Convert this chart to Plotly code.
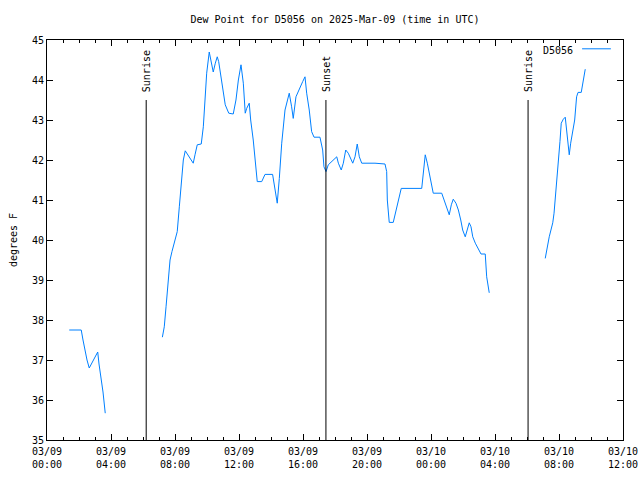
import pandas as pd
import plotly.graph_objects as go

# hours after 2025-03-09 00:00 UTC, dew point (F); segments separated by gaps
seg1_h = [1.39, 2.14, 2.25, 2.375, 2.5, 2.64, 3.17, 3.25, 3.375, 3.5, 3.64]
seg1_v = [37.75, 37.75, 37.5, 37.2, 37.0, 36.8, 37.2, 36.9, 36.6, 36.2, 35.67]

seg2_h = [7.21, 7.33, 7.44, 7.56, 7.69, 7.81, 8.0, 8.14, 8.27, 8.42, 8.52, 8.64, 8.89, 9.14,
          9.25, 9.39, 9.64, 9.77, 9.875, 9.98, 10.14, 10.27, 10.39, 10.52, 10.64, 10.73,
          10.86, 10.98, 11.14, 11.36, 11.64, 11.81, 11.96, 12.125, 12.27, 12.39, 12.48,
          12.64, 12.73, 12.89, 13.06, 13.14, 13.42, 13.625, 14.1, 14.25, 14.39, 14.52,
          14.67, 14.875, 15.14, 15.29, 15.39, 15.56, 15.77, 15.98, 16.125, 16.23, 16.39,
          16.54, 16.69, 17.06, 17.23, 17.31, 17.44, 17.58, 18.11, 18.21, 18.39, 18.52,
          18.67, 18.83, 19.11, 19.25, 19.39, 19.52, 19.67, 20.5, 21.125, 21.23, 21.27,
          21.375, 21.39, 21.64, 21.75, 21.86, 22.02, 22.14, 23.42, 23.48, 23.56, 23.64,
          23.77, 23.89, 24.02, 24.14, 24.67, 24.81, 24.98, 25.14, 25.27, 25.39, 25.56,
          25.71, 25.86, 25.98, 26.14, 26.27, 26.39, 26.5, 26.61, 26.77, 26.94, 27.125,
          27.39, 27.48, 27.64]
seg2_v = [37.57, 37.83, 38.33, 38.92, 39.5, 39.71, 40.04, 40.21, 40.83, 41.67, 42.0, 42.23,
          42.08, 41.92, 42.13, 42.38, 42.4, 42.83, 43.5, 44.17, 44.7, 44.42, 44.2, 44.42,
          44.58, 44.46, 44.13, 43.75, 43.38, 43.17, 43.15, 43.5, 44.0, 44.38, 43.92, 43.17,
          43.29, 43.42, 43.0, 42.5, 41.83, 41.46, 41.46, 41.64, 41.64, 41.25, 40.92, 41.54,
          42.42, 43.25, 43.67, 43.33, 43.04, 43.58, 43.79, 43.96, 44.08, 43.67, 43.25, 42.71,
          42.57, 42.57, 42.25, 41.83, 41.71, 41.88, 42.08, 41.92, 41.75, 41.92, 42.25, 42.17,
          41.92, 42.08, 42.4, 42.08, 41.92, 41.92, 41.9, 41.71, 41.0, 40.63, 40.44, 40.44,
          40.63, 40.83, 41.13, 41.29, 41.29, 41.5, 41.92, 42.13, 41.92, 41.67, 41.42, 41.17,
          41.17, 41.0, 40.79, 40.63, 40.88, 41.02, 40.92, 40.75, 40.5, 40.25, 40.08, 40.25,
          40.43, 40.33, 40.08, 39.92, 39.79, 39.65, 39.65, 39.08, 38.68]

seg3_h = [31.14, 31.27, 31.39, 31.61, 31.69, 31.81, 31.89, 31.98, 32.06, 32.14, 32.27, 32.39,
          32.48, 32.56, 32.64, 32.73, 32.86, 32.98, 33.1, 33.19, 33.39, 33.52, 33.64]
seg3_v = [39.54, 39.83, 40.08, 40.43, 40.67, 41.25, 41.58, 42.13, 42.46, 42.92, 43.02, 43.07,
          42.75, 42.46, 42.13, 42.42, 42.75, 43.0, 43.58, 43.69, 43.69, 44.0, 44.27]

sun_labels = ["Sunrise", "Sunset", "Sunrise"]
sun_times = ["2025-03-09 06:12", "2025-03-09 17:26", "2025-03-10 06:04"]

tick_times = ["2025-03-09 00:00", "2025-03-09 04:00", "2025-03-09 08:00", "2025-03-09 12:00",
              "2025-03-09 16:00", "2025-03-09 20:00", "2025-03-10 00:00", "2025-03-10 04:00",
              "2025-03-10 08:00", "2025-03-10 12:00"]
tick_text = ["03/09<br>00:00", "03/09<br>04:00", "03/09<br>08:00", "03/09<br>12:00",
             "03/09<br>16:00", "03/09<br>20:00", "03/10<br>00:00", "03/10<br>04:00",
             "03/10<br>08:00", "03/10<br>12:00"]

base = pd.Timestamp("2025-03-09 00:00")
xs, ys = [], []
for hs, vs in [(seg1_h, seg1_v), (seg2_h, seg2_v), (seg3_h, seg3_v)]:
    xs += [base + pd.Timedelta(hours=h) for h in hs] + [None]
    ys += vs + [None]

FONT = "DejaVu Sans Mono"
COLOR = "#0080ff"

fig = go.Figure()
fig.add_trace(go.Scatter(x=xs, y=ys, mode="lines", name="D5056",
                         line=dict(color=COLOR, width=1), connectgaps=False,
                         showlegend=False))

for lab, t in zip(sun_labels, sun_times):
    fig.add_shape(type="line", x0=t, x1=t, y0=35, y1=43.5, xref="x", yref="y",
                  line=dict(color="black", width=1))
    fig.add_annotation(x=t, y=43.5, xref="x", yref="y", text=lab, textangle=-90,
                       showarrow=False, yanchor="bottom", xanchor="center", yshift=6,
                       font=dict(family=FONT, size=10, color="black"))

# legend (gnuplot style: label then line sample)
fig.add_annotation(x=0.917, y=0.975, xref="paper", yref="paper", text="D5056",
                   showarrow=False, xanchor="right", yanchor="middle",
                   font=dict(family=FONT, size=10, color="black"))
fig.add_shape(type="line", x0=0.929, x1=0.979, y0=0.978, y1=0.978, xref="paper",
              yref="paper", line=dict(color=COLOR, width=1))

fig.update_layout(
    width=640, height=480,
    margin=dict(l=47, r=17, t=40, b=40),
    paper_bgcolor="white", plot_bgcolor="white",
    font=dict(family=FONT, size=10, color="black"),
    title=dict(text="Dew Point for D5056 on 2025-Mar-09 (time in UTC)",
               x=(47 + 623) / 2 / 640, xanchor="center", y=1 - 19 / 480,
               yanchor="middle", yref="container",
               font=dict(family=FONT, size=10, color="black")),
    showlegend=False,
)
fig.update_xaxes(
    type="date", range=["2025-03-09 00:00", "2025-03-10 12:00"], automargin=False,
    tickmode="array", tickvals=tick_times, ticktext=tick_text, ticklabelstandoff=2,
    ticks="inside", ticklen=6, tickcolor="black", mirror="ticks",
    showline=True, linecolor="black", linewidth=1, showgrid=False, zeroline=False,
    minor=dict(dtick=3600000, ticks="inside", ticklen=3, tickcolor="black", showgrid=False),
    tickfont=dict(family=FONT, size=10),
)
fig.update_yaxes(
    range=[35, 45], dtick=1, tick0=35, automargin=False,
    ticks="inside", ticklen=6, tickcolor="black", mirror="ticks",
    showline=True, linecolor="black", linewidth=1, showgrid=False, zeroline=False,
    title=dict(text="degrees F", standoff=12, font=dict(family=FONT, size=10)),
    tickfont=dict(family=FONT, size=10),
)

fig.write_html("out.html")
